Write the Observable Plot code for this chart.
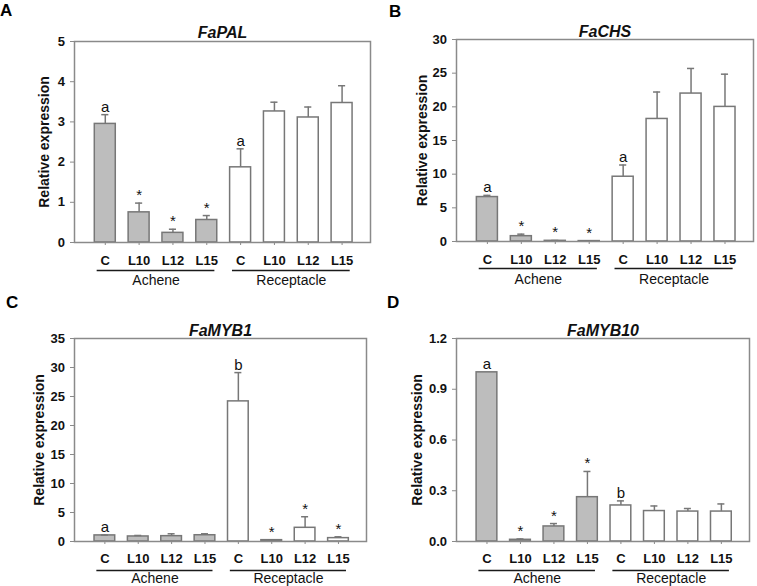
<!DOCTYPE html>
<html><head><meta charset="utf-8">
<script src="https://cdn.jsdelivr.net/npm/d3@7"></script>
<script src="https://cdn.jsdelivr.net/npm/@observablehq/plot@0.6"></script>
<style>
body{margin:0;background:#fff;}
#wrap{position:relative;width:757px;height:586px;overflow:hidden;font-family:"Liberation Sans",Arial,sans-serif;background:#fff;}
#wrap svg{position:absolute;overflow:visible;}
.letter{position:absolute;font-weight:bold;font-size:17px;line-height:1;color:#000;}
</style></head>
<body><div id="wrap"></div>
<script>
// ---- data ----
const categories = ["C","L10","L12","L15","C","L10","L12","L15"];
const tissues = ["Achene","Achene","Achene","Achene","Receptacle","Receptacle","Receptacle","Receptacle"];
const groupNames = ["Achene","Receptacle"];

const palMean = [2.95, 0.75, 0.24, 0.56, 1.87, 3.26, 3.11, 3.47];
const palErr  = [0.23, 0.23, 0.09, 0.11, 0.46, 0.23, 0.26, 0.43];
const palSig  = ["a","*","*","*","a","","",""];
const palTicks = [0, 1, 2, 3, 4, 5];

const chsMean = [6.6, 0.79, 0.1, 0.06, 9.62, 18.2, 21.97, 19.99];
const chsErr  = [0.25, 0.3, 0.05, 0.04, 1.74, 4.0, 3.73, 4.86];
const chsSig  = ["a","*","*","*","a","","",""];
const chsTicks = [0, 5, 10, 15, 20, 25, 30];

const myb1Mean = [1.05, 0.87, 0.92, 1.08, 24.16, 0.23, 2.36, 0.58];
const myb1Err  = [0.05, 0.17, 0.41, 0.25, 4.96, 0.06, 1.91, 0.23];
const myb1Sig  = ["a","","","","b","*","*","*"];
const myb1Ticks = [0, 5, 10, 15, 20, 25, 30, 35];

const myb10Mean = [1.0, 0.01, 0.089, 0.262, 0.213, 0.18, 0.177, 0.177];
const myb10Err  = [0, 0.005, 0.017, 0.152, 0.027, 0.03, 0.018, 0.045];
const myb10Sig  = ["a","*","*","*","b","","",""];
const myb10Ticks = [0, 0.3, 0.6, 0.9, 1.2];

// ---- drawing ----
const FONT = '"Liberation Sans", Arial, Helvetica, sans-serif';
const wrap = document.getElementById("wrap");
const idx = categories.map((_, i) => i);
const barHalf = 0.31, capHalf = 0.105, lineHalf = 0.24;
const hasAxisMarks = typeof Plot.axisX === "function";

function panel(o) {
  const rows = categories.map((c, i) => ({i, cat: c, tissue: tissues[i], mean: o.mean[i], err: o.err[i], top: o.mean[i] + o.err[i], sig: o.sig[i]}));
  const groups = groupNames.map(g => {
    const ii = rows.filter(r => r.tissue === g).map(r => r.i);
    return {g, x1: d3.min(ii) - lineHalf, x2: d3.max(ii) + lineHalf, xm: d3.mean(ii)};
  });
  const errRows = rows.filter(d => d.err > 0);
  const marks = [
    Plot.rectY(rows, {x1: d => d.i - barHalf, x2: d => d.i + barHalf, y1: 0, y2: "mean",
      fill: d => d.tissue === "Achene" ? "#bdbdbd" : "#ffffff", stroke: "#777", strokeWidth: 1.5}),
    Plot.ruleX(errRows, {x: "i", y1: "mean", y2: "top", stroke: "#777", strokeWidth: 1.5}),
    Plot.ruleY(errRows, {x1: d => d.i - capHalf, x2: d => d.i + capHalf, y: "top", stroke: "#777", strokeWidth: 1.5}),
    Plot.text(rows.filter(d => d.sig), {x: "i", y: "top", text: "sig", dy: -3, lineAnchor: "bottom", fontSize: 15, fill: "#111"}),
    Plot.frame({stroke: "#8a8a8a", strokeWidth: 1.5}),
    Plot.ruleY(groups, {x1: "x1", x2: "x2", y: 0, dy: o.ulDy, stroke: "#1a1a1a", strokeWidth: 1.6}),
    Plot.text(groups, {x: "xm", y: 0, text: "g", dy: o.grpDy, lineAnchor: "bottom", fontSize: 14, fill: "#111"}),
    Plot.text([o.title], {frameAnchor: "top", dy: o.titleDy, lineAnchor: "bottom", fontWeight: "bold", fontStyle: "italic", fontSize: 16, fill: "#111"}),
    Plot.text(["Relative expression"], {frameAnchor: "left", textAnchor: "middle", lineAnchor: "middle", dx: o.labelDx, rotate: -90, fontWeight: "bold", fontSize: 14, fill: "#111"})
  ];
  const xOpt = {domain: o.xDomain};
  const yOpt = {domain: o.yDomain};
  if (hasAxisMarks) {
    marks.push(Plot.axisY({ticks: o.yTicks, tickFormat: o.yFmt, tickSize: 4, tickPadding: 5.5, stroke: "#8a8a8a", fill: "#111", fontWeight: "bold", fontSize: 13, label: null}));
    marks.push(Plot.axisX({ticks: idx, tickFormat: i => categories[i], tickSize: 3, tickPadding: o.tickPad, stroke: "#8a8a8a", fill: "#111", fontWeight: "bold", fontSize: 13, label: null}));
  } else {
    Object.assign(xOpt, {ticks: idx, tickFormat: i => categories[i], tickSize: 3, tickPadding: o.tickPad, label: null});
    Object.assign(yOpt, {ticks: o.yTicks, tickFormat: o.yFmt, tickSize: 4, tickPadding: 5.5, label: null});
  }
  const svg = Plot.plot({
    width: o.width, height: o.height,
    marginLeft: o.mL, marginRight: o.mR, marginTop: o.mT, marginBottom: o.mB,
    style: {fontFamily: FONT, fontSize: "13px", overflow: "visible", background: "none", color: "#111"},
    x: xOpt, y: yOpt, marks
  });
  svg.style.left = o.left + "px";
  svg.style.top = o.top + "px";
  wrap.appendChild(svg);
  const L = document.createElement("div");
  L.className = "letter";
  L.textContent = o.letter;
  L.style.left = o.lx + "px";
  L.style.top = o.ly + "px";
  wrap.appendChild(L);
}

const xDomain = [-0.91, 7.84];
panel({letter: "A", lx: 0, ly: 2, title: "FaPAL", mean: palMean, err: palErr, sig: palSig,
  yDomain: [0, 5], yTicks: palTicks, yFmt: d3.format("d"), xDomain,
  left: 0, top: 0, width: 378, height: 290, mL: 74, mR: 8, mT: 41, mB: 48,
  labelDx: -30, titleDy: -4, ulDy: 28, grpDy: 42, tickPad: 10});
panel({letter: "B", lx: 389, ly: 3, title: "FaCHS", mean: chsMean, err: chsErr, sig: chsSig,
  yDomain: [0, 30], yTicks: chsTicks, yFmt: d3.format("d"), xDomain,
  left: 378, top: 0, width: 379, height: 290, mL: 78, mR: 4, mT: 39, mB: 49,
  labelDx: -34, titleDy: -3, ulDy: 27, grpDy: 42, tickPad: 10});
panel({letter: "C", lx: 6, ly: 294, title: "FaMYB1", mean: myb1Mean, err: myb1Err, sig: myb1Sig,
  yDomain: [0, 35], yTicks: myb1Ticks, yFmt: d3.format("d"), xDomain,
  left: 0, top: 290, width: 378, height: 296, mL: 74, mR: 12, mT: 48, mB: 45,
  labelDx: -35, titleDy: -3, ulDy: 29, grpDy: 41, tickPad: 9});
panel({letter: "D", lx: 387, ly: 294, title: "FaMYB10", mean: myb10Mean, err: myb10Err, sig: myb10Sig,
  yDomain: [0, 1.2], yTicks: myb10Ticks, yFmt: d3.format(".1f"), xDomain,
  left: 378, top: 290, width: 379, height: 296, mL: 78, mR: 8, mT: 48, mB: 45,
  labelDx: -39, titleDy: -3, ulDy: 29, grpDy: 41, tickPad: 9});
</script>
</body></html>
